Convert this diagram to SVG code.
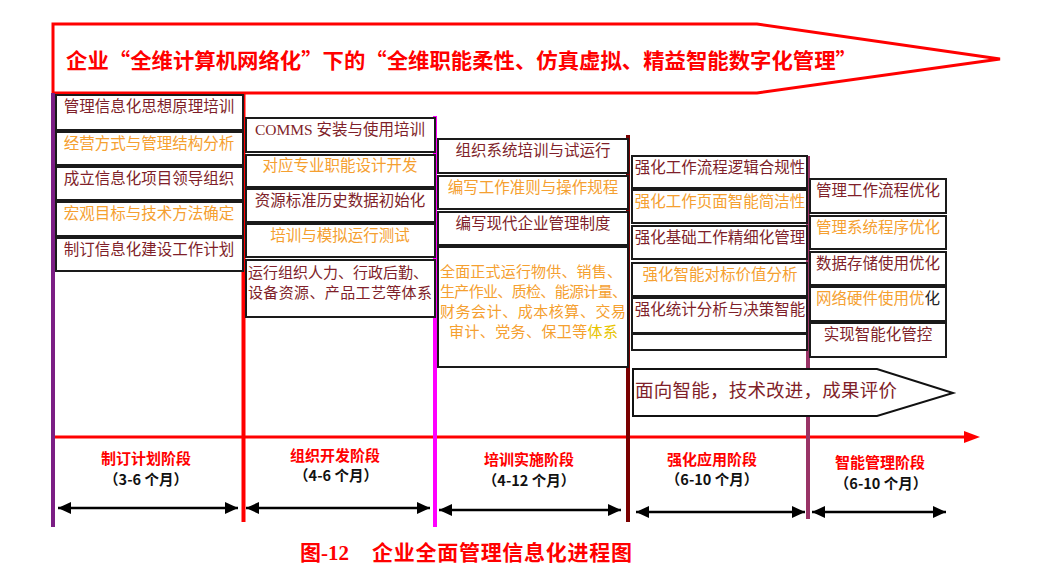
<svg xmlns="http://www.w3.org/2000/svg" width="1042" height="578" viewBox="0 0 1042 578">
<style>
.bx{fill:#fff;stroke:#1a1a1a;stroke-width:2}
.t{font-family:'Liberation Serif','Noto Sans CJK SC',serif;font-size:15.5px;text-anchor:middle}
.tl{font-family:'Liberation Serif','Noto Sans CJK SC',serif;font-size:15px}
.dr{fill:#7F1F2A}
.or{fill:#F5A030}
.stg{font-family:'Noto Sans CJK SC',sans-serif;font-size:15px;font-weight:bold;fill:#FF0000;text-anchor:middle}
.sub{font-family:'Noto Sans CJK SC',sans-serif;font-size:14.5px;font-weight:bold;fill:#111;text-anchor:middle}
.dbl{stroke:#000;stroke-width:2.5;fill:none;marker-start:url(#ah);marker-end:url(#ah)}
</style>
<defs>
<marker id="ah" markerUnits="userSpaceOnUse" markerWidth="14" markerHeight="12" refX="13" refY="6" orient="auto-start-reverse">
<path d="M0,0 L13,6 L0,12 Z" fill="#000"/>
</marker>
</defs>
<rect x="0" y="0" width="1042" height="578" fill="#fff"/>

<g id="banner">
<polygon points="53,24 757,24 1000,59 757,93 53,93" fill="#fff" stroke="#FF0000" stroke-width="3"/>
<text x="66" y="67.5" font-family="'Noto Sans CJK SC',sans-serif" font-size="21" font-weight="bold" fill="#FF0000" textLength="791" lengthAdjust="spacingAndGlyphs">企业“全维计算机网络化”下的“全维职能柔性、仿真虚拟、精益智能数字化管理”</text>
</g>

<g id="connectors">
<line x1="53" y1="437" x2="966" y2="437" stroke="#FF0000" stroke-width="3"/>
<polygon points="980,437 964,431 964,443" fill="#FF0000"/>
<line x1="53" y1="93" x2="53" y2="527" stroke="#7B1E84" stroke-width="4"/>
<line x1="243.5" y1="93" x2="243.5" y2="522" stroke="#FF0000" stroke-width="4"/>
<line x1="435" y1="116" x2="435" y2="527" stroke="#FF00FF" stroke-width="4"/>
<line x1="628" y1="135" x2="628" y2="522" stroke="#7A0000" stroke-width="4"/>
<line x1="808" y1="156" x2="808" y2="519" stroke="#993366" stroke-width="4"/>
<line class="dbl" x1="58" y1="508" x2="238" y2="508"/>
<line class="dbl" x1="246" y1="508" x2="430" y2="508"/>
<line class="dbl" x1="439" y1="510" x2="621" y2="510"/>
<line class="dbl" x1="636" y1="512" x2="805" y2="512"/>
<line class="dbl" x1="812" y1="512" x2="946" y2="512"/>
</g>

<g id="col1">
<g id="c1b1"><rect class="bx" x="56" y="95" width="187" height="35"/><text class="t dr" x="149" y="112">管理信息化思想原理培训</text></g>
<g id="c1b2"><rect class="bx" x="56" y="132" width="187" height="33"/><text class="t or" x="149" y="149">经营方式与管理结构分析</text></g>
<g id="c1b3"><rect class="bx" x="56" y="167" width="187" height="33"/><text class="t dr" x="149" y="184">成立信息化项目领导组织</text></g>
<g id="c1b4"><rect class="bx" x="56" y="202" width="187" height="34"/><text class="t or" x="149" y="219">宏观目标与技术方法确定</text></g>
<g id="c1b5"><rect class="bx" x="56" y="238" width="187" height="33"/><text class="t dr" x="149" y="255">制订信息化建设工作计划</text></g>
</g>

<g id="col2">
<g id="c2b1"><rect class="bx" x="246" y="118" width="189" height="34"/><text class="t dr" x="340" y="135">COMMS 安装与使用培训</text></g>
<g id="c2b2"><rect class="bx" x="246" y="155" width="189" height="32"/><text class="t or" x="340" y="171">对应专业职能设计开发</text></g>
<g id="c2b3"><rect class="bx" x="246" y="189" width="189" height="33"/><text class="t dr" x="340" y="206">资源标准历史数据初始化</text></g>
<g id="c2b4"><rect class="bx" x="246" y="224" width="189" height="33"/><text class="t or" x="340" y="241">培训与模拟运行测试</text></g>
<g id="c2b5"><rect class="bx" x="246" y="260" width="189" height="57"/>
<text class="tl dr" x="248" y="277.5" textLength="180">运行组织人力、行政后勤、</text>
<text class="tl dr" x="248" y="297.5" textLength="184">设备资源、产品工艺等体系</text></g>
</g>

<g id="col3">
<g id="c3b1"><rect class="bx" x="438" y="139" width="190" height="34"/><text class="t dr" x="533" y="156">组织系统培训与试运行</text></g>
<g id="c3b2"><rect class="bx" x="438" y="176" width="190" height="33"/><text class="t or" x="533" y="193">编写工作准则与操作规程</text></g>
<g id="c3b3"><rect class="bx" x="438" y="212" width="190" height="33"/><text class="t dr" x="533" y="229">编写现代企业管理制度</text></g>
<g id="c3b4"><rect class="bx" x="438" y="247" width="190" height="120"/>
<text class="tl or" x="440" y="277" textLength="182">全面正式运行物供、销售、</text>
<text class="tl or" x="440" y="297" textLength="187">生产作业、质检、能源计量、</text>
<text class="tl or" x="440" y="316.5" textLength="186">财务会计、成本核算、交易</text>
<text class="tl" x="449" y="336.5" textLength="169"><tspan class="or">审计、党务、保卫等</tspan><tspan fill="#E8C400">体系</tspan></text></g>
</g>

<g id="col4">
<g id="c4b1"><rect class="bx" x="632" y="156" width="175" height="32"/><text class="t dr" x="720" y="172.5">强化工作流程逻辑合规性</text></g>
<g id="c4b2"><rect class="bx" x="632" y="190" width="175" height="33"/><text class="t or" x="720" y="207">强化工作页面智能简洁性</text></g>
<g id="c4b3"><rect class="bx" x="632" y="226" width="175" height="33"/><text class="t dr" x="720" y="243">强化基础工作精细化管理</text></g>
<g id="c4b4"><rect class="bx" x="632" y="263" width="175" height="33"/><text class="t or" x="720" y="280">强化智能对标价值分析</text></g>
<g id="c4b5"><rect class="bx" x="632" y="298" width="175" height="35"/><text class="t dr" x="720" y="315">强化统计分析与决策智能</text></g>
<g id="c4b6"><rect class="bx" x="632" y="334" width="175" height="16"/></g>
</g>

<g id="col5">
<g id="c5b1"><rect class="bx" x="810" y="179" width="136" height="34"/><text class="t dr" x="878" y="196">管理工作流程优化</text></g>
<g id="c5b2"><rect class="bx" x="810" y="216" width="136" height="33"/><text class="t or" x="878" y="233">管理系统程序优化</text></g>
<g id="c5b3"><rect class="bx" x="810" y="252" width="136" height="33"/><text class="t dr" x="878" y="269">数据存储使用优化</text></g>
<g id="c5b4"><rect class="bx" x="810" y="287" width="136" height="34"/><text class="t" x="878" y="304"><tspan class="or">网络硬件使用优</tspan><tspan fill="#222">化</tspan></text></g>
<g id="c5b5"><rect class="bx" x="810" y="323" width="136" height="34"/><text class="t dr" x="878" y="340">实现智能化管控</text></g>
</g>

<g id="goal">
<polygon points="633,369 877,369 953,393 877,416 633,416" fill="#fff" stroke="#111" stroke-width="2"/>
<text x="635" y="396.5" font-family="'Noto Sans CJK SC',sans-serif" font-size="18.5" fill="#7F1F2A" textLength="262">面向智能，技术改进，成果评价</text>
</g>

<g id="stage1"><text class="stg" x="146" y="464">制订计划阶段</text><text class="sub" x="146" y="485">（3-6 个月）</text></g>
<g id="stage2"><text class="stg" x="335" y="461">组织开发阶段</text><text class="sub" x="336" y="481">（4-6 个月）</text></g>
<g id="stage3"><text class="stg" x="529" y="465">培训实施阶段</text><text class="sub" x="529" y="486">（4-12 个月）</text></g>
<g id="stage4"><text class="stg" x="712" y="465">强化应用阶段</text><text class="sub" x="712" y="485">（6-10 个月）</text></g>
<g id="stage5"><text class="stg" x="880" y="468">智能管理阶段</text><text class="sub" x="881" y="489">（6-10 个月）</text></g>

<g id="caption">
<text x="300" y="560" font-family="'Liberation Serif','Noto Sans CJK SC',serif" font-size="21" font-weight="bold" fill="#FF0000">图-12</text>
<text x="372" y="560" font-family="'Noto Sans CJK SC',sans-serif" font-size="21" font-weight="bold" fill="#FF0000" textLength="260">企业全面管理信息化进程图</text>
</g>
</svg>
